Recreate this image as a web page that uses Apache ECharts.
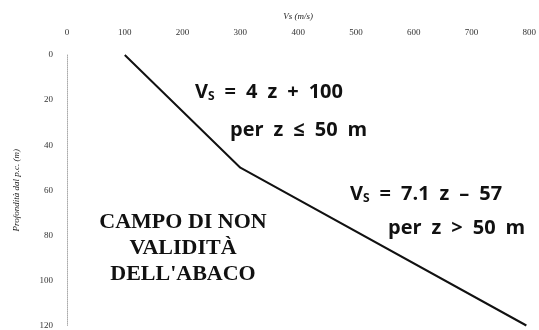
<!DOCTYPE html>
<html>
<head>
<meta charset="utf-8">
<script src="https://cdn.jsdelivr.net/npm/echarts@6/dist/echarts.min.js"></script>
<style>
  html, body { margin: 0; padding: 0; background: #fff; }
  #main { width: 539px; height: 330px; }
</style>
</head>
<body>
<div id="main"></div>
<script>
// Vs profile
const vsValues = [100, 300, 795]
const depths = [0, 50, 120]
const xTicks = [0, 100, 200, 300, 400, 500, 600, 700, 800]
const yTicks = [0, 20, 40, 60, 80, 100, 120]
const regionLines = ['CAMPO DI NON', 'VALIDITÀ', 'DELL\'ABACO']

const chart = echarts.init(document.getElementById('main'))

// wide spaces, as in the picture
const sp = t => t.replace(/ /g, '\u2002')

const eqStyle = {
  fontFamily: 'Open Sans',
  fontWeight: 'bold',
  fontSize: 20,
  fill: '#111'
}
const eqRich = {
  sub: { fontFamily: 'Open Sans', fontWeight: 'bold', fontSize: 12, padding: [10, 0, 0, 0], fill: '#111' }
}

const regionText = regionLines.map((t, i) => ({
  type: 'text',
  x: 183,
  y: 222 + i * 26,
  style: {
    text: t,
    align: 'center',
    verticalAlign: 'middle',
    fontFamily: 'Liberation Serif',
    fontWeight: 'bold',
    fontSize: 22,
    fill: '#111'
  }
}))

chart.setOption({
  animation: false,
  grid: { left: 67, right: 3, top: 55, bottom: 3, containLabel: false },
  xAxis: {
    type: 'value',
    position: 'top',
    min: xTicks[0],
    max: xTicks[xTicks.length - 1],
    interval: 100,
    name: 'Vs (m/s)',
    nameLocation: 'middle',
    nameGap: 34,
    nameTextStyle: { fontFamily: 'Liberation Serif', fontStyle: 'italic', fontSize: 9, color: '#222' },
    axisLine: { show: false },
    axisTick: { show: false },
    splitLine: { show: false },
    axisLabel: { fontFamily: 'Liberation Serif', fontSize: 9, color: '#333', margin: 18 }
  },
  yAxis: {
    type: 'value',
    inverse: true,
    min: yTicks[0],
    max: yTicks[yTicks.length - 1],
    interval: 20,
    name: 'Profondità dal p.c. (m)',
    nameLocation: 'middle',
    nameGap: 46,
    nameTextStyle: { fontFamily: 'Liberation Serif', fontStyle: 'italic', fontSize: 9, color: '#222' },
    axisLine: { show: true, lineStyle: { color: '#aaa', type: 'dotted', width: 1 } },
    axisTick: { show: false },
    splitLine: { show: false },
    axisLabel: { fontFamily: 'Liberation Serif', fontSize: 9, color: '#333', margin: 14 }
  },
  series: [{
    type: 'line',
    data: vsValues.map((v, i) => [v, depths[i]]),
    showSymbol: false,
    clip: false,
    lineStyle: { color: '#111', width: 2 }
  }],
  graphic: [
    {
      type: 'text', left: 195, top: 82,
      style: Object.assign({ text: 'V{sub|S}' + sp(' = 4 z + 100'), rich: eqRich }, eqStyle)
    },
    {
      type: 'text', left: 230, top: 120,
      style: Object.assign({ text: sp('per z ≤ 50 m') }, eqStyle)
    },
    {
      type: 'text', left: 350, top: 184,
      style: Object.assign({ text: 'V{sub|S}' + sp(' = 7.1 z – 57'), rich: eqRich }, eqStyle)
    },
    {
      type: 'text', left: 388, top: 218,
      style: Object.assign({ text: sp('per z > 50 m') }, eqStyle)
    }
  ].concat(regionText)
})
</script>
</body>
</html>
